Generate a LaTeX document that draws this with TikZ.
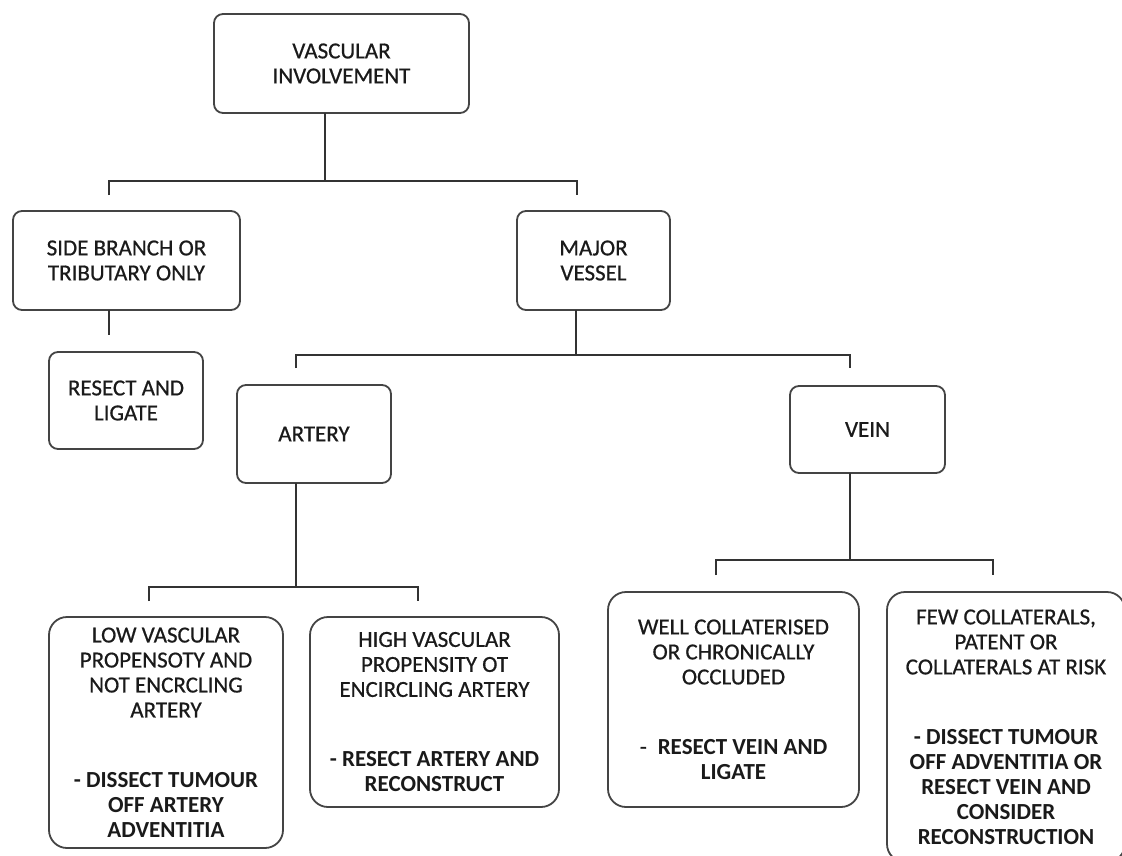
\documentclass[tikz,border=0pt]{standalone}
\usepackage{fontspec}
\setmainfont{Carlito}[UprightFeatures={FakeBold=0.6}]
\definecolor{boxc}{HTML}{444444}
\definecolor{linec}{HTML}{333333}
\definecolor{txtc}{HTML}{1A1A1A}
\begin{document}
\begin{tikzpicture}[x=1pt,y=-1pt,
  box/.style={draw=boxc, line width=1.8pt, rounded corners=9pt, inner sep=0pt, outer sep=0pt,
    align=center, font=\fontsize{23}{25}\selectfont, text=txtc},
  bigbox/.style={box, rounded corners=18pt},
  conn/.style={draw=linec, line width=1.8pt}]
\useasboundingbox (0,0) rectangle (1122,855);
\clip (0,0) rectangle (1122,855);
\fill[white] (0,0) rectangle (1122,855);

% boxes
\node[box, minimum width=255pt, minimum height=99pt] (top) at (341.5,63.5) {VASCULAR\\INVOLVEMENT};
\node[box, minimum width=227pt, minimum height=99pt] (side) at (126.5,260.5) {SIDE BRANCH OR\\TRIBUTARY ONLY};
\node[box, minimum width=153pt, minimum height=99pt] (major) at (593.5,260.5) {MAJOR\\VESSEL};
\node[box, minimum width=154pt, minimum height=97pt] (resect) at (126,400.5) {RESECT AND\\LIGATE};
\node[box, minimum width=154pt, minimum height=98pt] (artery) at (314,434) {ARTERY};
\node[box, minimum width=155pt, minimum height=87pt] (vein) at (867.5,429.5) {VEIN};
\node[bigbox, minimum width=234pt, minimum height=231pt] (low) at (166,732.5)
  {LOW VASCULAR\\PROPENSOTY AND\\NOT ENCRCLING\\ARTERY\\[45pt]
   \textbf{- DISSECT TUMOUR}\\\textbf{OFF ARTERY}\\\textbf{ADVENTITIA}};
\node[bigbox, minimum width=249pt, minimum height=190pt] (high) at (434.5,712)
  {HIGH VASCULAR\\PROPENSITY OT\\ENCIRCLING ARTERY\\[45pt]
   \textbf{- RESECT ARTERY AND}\\\textbf{RECONSTRUCT}};
\node[bigbox, minimum width=251pt, minimum height=215pt] (well) at (733.5,699.5)
  {WELL COLLATERISED\\OR CHRONICALLY\\OCCLUDED\\[45pt]
   -\hspace{11pt}\textbf{RESECT VEIN AND}\\\textbf{LIGATE}};
\node[bigbox, minimum width=238pt, minimum height=270pt] (few) at (1006,727)
  {FEW COLLATERALS,\\PATENT OR\\COLLATERALS AT RISK\\[45pt]
   \textbf{- DISSECT TUMOUR}\\\textbf{OFF ADVENTITIA OR}\\\textbf{RESECT VEIN AND}\\\textbf{CONSIDER}\\\textbf{RECONSTRUCTION}};

% junction coordinates
\coordinate (h1) at (325,181);
\coordinate (h1l) at (109,181);
\coordinate (h1r) at (577,181);
\coordinate (d1l) at (109,195);
\coordinate (d1r) at (577,195);
\coordinate (s1) at (109,335);
\coordinate (h2) at (576,355);
\coordinate (h2l) at (296,355);
\coordinate (h2r) at (850,355);
\coordinate (d2l) at (296,368);
\coordinate (d2r) at (850,368);
\coordinate (h3) at (296,587);
\coordinate (h3l) at (149,587);
\coordinate (h3r) at (418,587);
\coordinate (d3l) at (149,601);
\coordinate (d3r) at (418,601);
\coordinate (h4) at (850,560);
\coordinate (h4l) at (716,560);
\coordinate (h4r) at (993,560);
\coordinate (d4l) at (716,575);
\coordinate (d4r) at (993,575);

% connectors
\draw[conn] (top.south -| h1) -- (h1);
\draw[conn] (d1l) -- (h1l) -- (h1r) -- (d1r);
\draw[conn] (side.south -| s1) -- (s1);
\draw[conn] (major.south -| h2) -- (h2);
\draw[conn] (d2l) -- (h2l) -- (h2r) -- (d2r);
\draw[conn] (artery.south -| h3) -- (h3);
\draw[conn] (d3l) -- (h3l) -- (h3r) -- (d3r);
\draw[conn] (vein.south -| h4) -- (h4);
\draw[conn] (d4l) -- (h4l) -- (h4r) -- (d4r);
\end{tikzpicture}
\end{document}
